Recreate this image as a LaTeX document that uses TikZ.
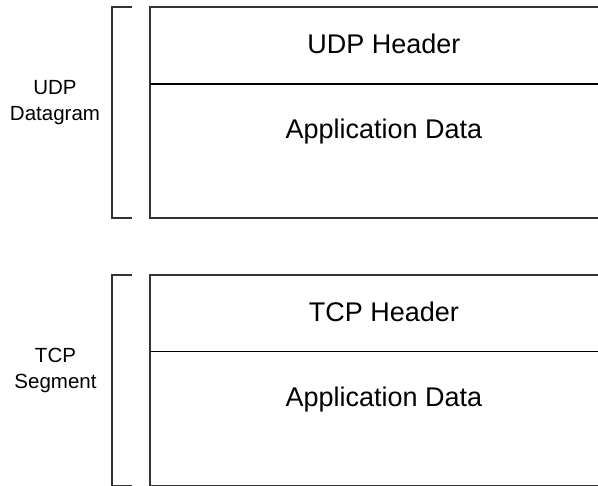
\documentclass[tikz,border=0pt]{standalone}
\usepackage{fontspec}
\setmainfont{Liberation Sans}
\begin{document}
\begin{tikzpicture}[x=1pt,y=-1pt,
  frame/.style={draw=black!80,line width=1.6pt},
  divider/.style={draw=black,line width=1.6pt},
  bigtext/.style={font=\fontsize{27}{30}\selectfont,inner sep=0pt,anchor=base},
  sidetext/.style={font=\fontsize{20.5}{26}\selectfont,align=center,inner sep=0pt}]
\useasboundingbox (0,0) rectangle (598,486);
\clip (0,0) rectangle (598,486);
% UDP group
\draw[frame] (132,7) -- (112,7) -- (112,218) -- (132,218);
\draw[frame] (610,7) -- (150,7) -- (150,218) -- (610,218);
\draw[divider] (150,84) -- (610,84);
\node[bigtext] (udph) at (384,54) {UDP Header};
\node[bigtext] (udpd) at (384,139) {Application Data};
\node[sidetext] (udpl) at (55,103) {UDP\\Datagram};
% TCP group
\draw[frame] (132,275) -- (112,275) -- (112,485.5) -- (132,485.5);
\draw[frame] (610,275) -- (150,275) -- (150,485.5) -- (610,485.5);
\draw[divider] (150,351.5) -- (610,351.5);
\node[bigtext] (tcph) at (384,322) {TCP Header};
\node[bigtext] (tcpd) at (384,407) {Application Data};
\node[sidetext] (tcpl) at (55.5,370) {TCP\\Segment};
\end{tikzpicture}
\end{document}
